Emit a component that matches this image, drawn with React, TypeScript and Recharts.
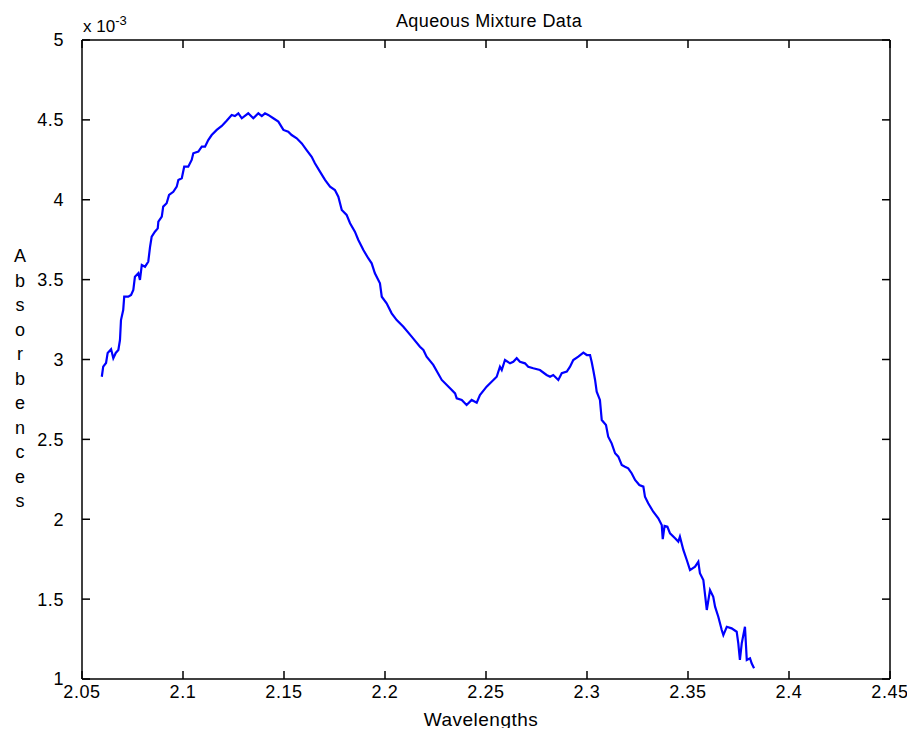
import React from "react";
import { LineChart, Line, XAxis, YAxis, Customized } from "recharts";

// wavelength (x) and absorbance (in units of 1e-3)
const wavelengths = [
  2.0598, 2.0605, 2.0619, 2.0627, 2.0644, 2.0655, 2.0667, 2.068, 2.0688, 2.0693,
  2.0704, 2.0709, 2.0729, 2.0743, 2.0754, 2.0762, 2.0779, 2.0787, 2.0796, 2.0812,
  2.0828, 2.0837, 2.0845, 2.0861, 2.0875, 2.0878, 2.0895, 2.0902, 2.0919, 2.0931,
  2.0952, 2.0969, 2.0977, 2.0994, 2.1006, 2.1026, 2.1043, 2.1051, 2.1076, 2.1093,
  2.1109, 2.1125, 2.1142, 2.1167, 2.1192, 2.1216, 2.1241, 2.1257, 2.1274, 2.1291,
  2.1323, 2.1348, 2.1373, 2.139, 2.1406, 2.1422, 2.1447, 2.1472, 2.1497, 2.1521,
  2.1538, 2.1563, 2.1588, 2.1612, 2.1637, 2.1653, 2.1678, 2.1703, 2.1728, 2.1752,
  2.1769, 2.1786, 2.181, 2.1827, 2.1851, 2.1868, 2.1893, 2.1917, 2.1934, 2.195,
  2.1975, 2.1984, 2.2008, 2.2033, 2.2058, 2.2091, 2.2132, 2.2173, 2.219, 2.2206,
  2.2239, 2.2281, 2.2322, 2.2347, 2.2355, 2.238, 2.2404, 2.2429, 2.2454, 2.247,
  2.2503, 2.2553, 2.2569, 2.2578, 2.2594, 2.2619, 2.2635, 2.2652, 2.2668, 2.2693,
  2.2709, 2.2734, 2.2767, 2.28, 2.2817, 2.2833, 2.2858, 2.2875, 2.29, 2.2916,
  2.2932, 2.2957, 2.2982, 2.2999, 2.3015, 2.3023, 2.3031, 2.304, 2.3048, 2.3064,
  2.3073, 2.3094, 2.3105, 2.3122, 2.3139, 2.3155, 2.3172, 2.3188, 2.3204, 2.3221,
  2.3238, 2.3259, 2.3279, 2.3287, 2.3303, 2.3328, 2.3353, 2.337, 2.3375, 2.3384,
  2.3398, 2.3411, 2.3436, 2.3452, 2.346, 2.3477, 2.3494, 2.351, 2.3535, 2.3551,
  2.3559, 2.3576, 2.3593, 2.3609, 2.3625, 2.3634, 2.365, 2.3667, 2.3675, 2.3692,
  2.3716, 2.3741, 2.3749, 2.3757, 2.3766, 2.3782, 2.3791, 2.3807, 2.3815, 2.3827,
];

const absorbance = [
  2.892, 2.955, 2.978, 3.041, 3.064, 3.008, 3.041, 3.06, 3.122, 3.247,
  3.31, 3.393, 3.393, 3.404, 3.435, 3.518, 3.54, 3.498, 3.592, 3.581,
  3.612, 3.706, 3.769, 3.8, 3.821, 3.863, 3.894, 3.957, 3.978, 4.03,
  4.05, 4.082, 4.124, 4.134, 4.207, 4.207, 4.249, 4.291, 4.301, 4.332,
  4.332, 4.374, 4.405, 4.437, 4.462, 4.495, 4.531, 4.524, 4.541, 4.51,
  4.541, 4.51, 4.541, 4.524, 4.541, 4.531, 4.51, 4.489, 4.437, 4.426,
  4.405, 4.385, 4.353, 4.311, 4.269, 4.228, 4.176, 4.124, 4.082, 4.061,
  4.019, 3.936, 3.905, 3.853, 3.8, 3.748, 3.685, 3.634, 3.602, 3.54,
  3.477, 3.393, 3.352, 3.289, 3.247, 3.205, 3.143, 3.08, 3.06, 3.018,
  2.966, 2.872, 2.82, 2.788, 2.757, 2.747, 2.715, 2.747, 2.73, 2.778,
  2.83, 2.892, 2.955, 2.934, 2.997, 2.976, 2.986, 3.008, 2.986, 2.976,
  2.955, 2.945, 2.934, 2.903, 2.892, 2.903, 2.872, 2.914, 2.924, 2.955,
  2.997, 3.018, 3.043, 3.028, 3.028, 2.986, 2.934, 2.872, 2.798, 2.747,
  2.621, 2.59, 2.517, 2.475, 2.413, 2.392, 2.34, 2.329, 2.319, 2.288,
  2.246, 2.214, 2.204, 2.141, 2.1, 2.047, 2.006, 1.964, 1.876, 1.958,
  1.953, 1.912, 1.881, 1.86, 1.891, 1.808, 1.745, 1.682, 1.703, 1.734,
  1.662, 1.62, 1.432, 1.557, 1.515, 1.453, 1.39, 1.307, 1.275, 1.327,
  1.317, 1.296, 1.223, 1.119, 1.223, 1.327, 1.119, 1.13, 1.098, 1.067,
];

const xTicks = [2.05, 2.1, 2.15, 2.2, 2.25, 2.3, 2.35, 2.4, 2.45];
const xTickLabels = ["2.05", "2.1", "2.15", "2.2", "2.25", "2.3", "2.35", "2.4", "2.45"];
const yTicks = [1, 1.5, 2, 2.5, 3, 3.5, 4, 4.5, 5];
const yTickLabels = ["1", "1.5", "2", "2.5", "3", "3.5", "4", "4.5", "5"];

const data = wavelengths.map((w, i) => ({ w, a: absorbance[i] }));

const FONT = "'Liberation Sans', Arial, sans-serif";
const axisStyle = { stroke: "#000", strokeWidth: 1.5 };
const tickStyle = { fill: "#000", fontSize: 18, fontFamily: FONT, letterSpacing: 0.6 };

const ylabelLetters = "Absorbences".split("");

function Texts() {
  return (
    <g fontFamily={FONT} fill="#000">
      <text x={481} y={19} textAnchor="middle" fontSize={18} letterSpacing={0.4}>
        Aqueous Mixture Data
      </text>
      <text x={473} y={718} textAnchor="middle" fontSize={19} letterSpacing={0.5}>
        Wavelengths
      </text>
      <text x={75} y={24} fontSize={17}>
        x 10
        <tspan dy={-7} fontSize={13}>-3</tspan>
      </text>
      {ylabelLetters.map((c, i) => (
        <text key={i} x={12} y={254 + i * 24.5} textAnchor="middle" fontSize={18}>
          {c}
        </text>
      ))}
    </g>
  );
}

export default function App() {
  return (
    <div style={{ width: 900, height: 720, background: "#fff", overflow: "visible" }}>
      <LineChart
        width={900}
        height={725}
        data={data}
        margin={{ top: 31, right: 17, bottom: 24, left: 44 }}
      >
        <XAxis
          xAxisId="b"
          type="number"
          dataKey="w"
          domain={[2.05, 2.45]}
          ticks={xTicks}
          allowDataOverflow
          height={30}
          tickSize={-8}
          tickMargin={14}
          tickLine={axisStyle}
          axisLine={axisStyle}
          tick={tickStyle}
          tickFormatter={(v, i) => xTickLabels[i]}
          interval={0}
        />
        <XAxis
          xAxisId="t"
          orientation="top"
          type="number"
          dataKey="w"
          domain={[2.05, 2.45]}
          ticks={xTicks}
          allowDataOverflow
          height={1}
          tickSize={-8}
          tickLine={axisStyle}
          axisLine={axisStyle}
          tickFormatter={() => ""}
          interval={0}
        />
        <YAxis
          yAxisId="l"
          type="number"
          domain={[1, 5]}
          ticks={yTicks}
          allowDataOverflow
          width={30}
          tickSize={-8}
          tickMargin={26}
          tickLine={axisStyle}
          axisLine={axisStyle}
          tick={tickStyle}
          tickFormatter={(v, i) => yTickLabels[i]}
          interval={0}
        />
        <YAxis
          yAxisId="r"
          orientation="right"
          type="number"
          domain={[1, 5]}
          ticks={yTicks}
          allowDataOverflow
          width={1}
          tickSize={-8}
          tickLine={axisStyle}
          axisLine={axisStyle}
          tickFormatter={() => ""}
          interval={0}
        />
        <Line
          xAxisId="b"
          yAxisId="l"
          type="linear"
          dataKey="a"
          stroke="#0000ff"
          strokeWidth={2.2}
          dot={false}
          isAnimationActive={false}
        />
        <Line
          xAxisId="t"
          yAxisId="r"
          type="linear"
          dataKey="a"
          stroke="none"
          dot={false}
          isAnimationActive={false}
        />
        <Customized component={Texts} />
      </LineChart>
    </div>
  );
}
